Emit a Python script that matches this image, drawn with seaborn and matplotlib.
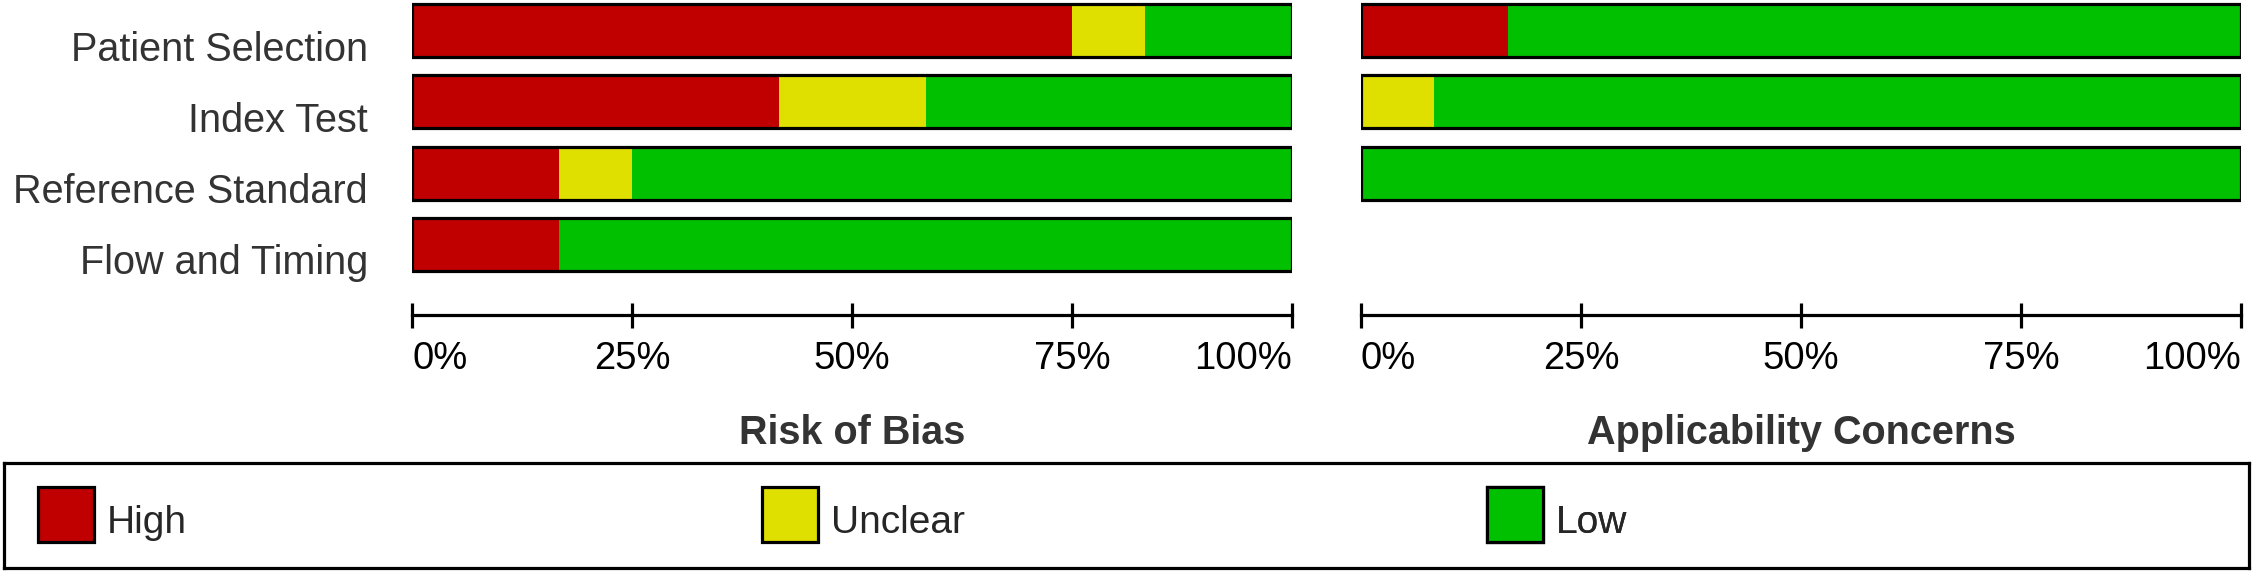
import matplotlib
matplotlib.use("Agg")
import matplotlib.pyplot as plt
from matplotlib.patches import Patch
import seaborn as sns
import pandas as pd

# ---- data (percent of studies) ----
rob_domains = ["Patient Selection", "Index Test", "Reference Standard", "Flow and Timing"]
rob_high = [75.0, 41.7, 16.7, 16.7]
rob_unclear = [8.3, 16.7, 8.3, 0.0]
rob_low = [16.7, 41.6, 75.0, 83.3]

app_domains = ["Patient Selection", "Index Test", "Reference Standard"]
app_high = [16.7, 0.0, 0.0]
app_unclear = [0.0, 8.3, 0.0]
app_low = [83.3, 91.7, 100.0]

tick_values = [0, 25, 50, 75, 100]
tick_labels = ["0%", "25%", "50%", "75%", "100%"]
levels = ["High", "Unclear", "Low"]
colors = {"High": "#C00000", "Unclear": "#E0E000", "Low": "#00C000"}

sns.set_theme(style="white")
plt.rcParams["font.family"] = ["Liberation Sans", "DejaVu Sans"]

W, H = 2255, 574
fig = plt.figure(figsize=(W / 100, H / 100), dpi=100)

def fx(px):
    return px / W

def fy(px):
    return 1 - px / H

ax_top_px, ax_bot_px = 0, 315
axes_h = (ax_bot_px - ax_top_px) / H
ax_rob = fig.add_axes([fx(412), fy(ax_bot_px), 880 / W, axes_h])
ax_app = fig.add_axes([fx(1361), fy(ax_bot_px), 880 / W, axes_h])

def draw(ax, domains, high, unclear, low, title, show_labels):
    df = pd.DataFrame({"domain": domains, "high": high, "unclear": unclear, "low": low})
    df["cum_unclear"] = df["high"] + df["unclear"]
    df["total"] = df["cum_unclear"] + df["low"]
    bw = 0.74
    sns.barplot(data=df, x="total", y="domain", orient="h", color=colors["Low"],
                saturation=1, width=bw, errorbar=None, linewidth=0, ax=ax)
    sns.barplot(data=df, x="cum_unclear", y="domain", orient="h", color=colors["Unclear"],
                saturation=1, width=bw, errorbar=None, linewidth=0, ax=ax)
    sns.barplot(data=df, x="high", y="domain", orient="h", color=colors["High"],
                saturation=1, width=bw, errorbar=None, linewidth=0, ax=ax)
    sns.barplot(data=df, x="total", y="domain", orient="h", color="black", fill=False,
                width=bw, errorbar=None, linewidth=2.3, ax=ax)
    ax.set_xlim(0, 100)
    ax.set_ylim(3.989, -0.428)
    for s in ["top", "left", "right"]:
        ax.spines[s].set_visible(False)
    ax.spines["bottom"].set_color("black")
    ax.spines["bottom"].set_linewidth(2.3)
    ax.set_xticks(tick_values)
    ax.set_xticklabels(tick_labels, fontsize=27.5, color="black")
    for lab, ha in zip(ax.get_xticklabels(), ["left", "center", "center", "center", "right"]):
        lab.set_horizontalalignment(ha)
    ax.tick_params(axis="x", direction="inout", length=18, width=2.3, color="black",
                   pad=10, bottom=True)
    ax.set_xlabel(title, fontsize=28.5, fontweight="bold", color="#333333", labelpad=26)
    ax.set_ylabel("")
    ax.tick_params(axis="y", length=0, labelleft=False)
    if show_labels:
        for i, d in enumerate(domains):
            ax.annotate(d, xy=(0, i), xycoords=("axes fraction", "data"),
                        xytext=(-31.7, -21.6), textcoords="offset points",
                        ha="right", va="baseline", fontsize=28.5, color="#333333",
                        annotation_clip=False)
    ax.set_facecolor("none")

draw(ax_rob, rob_domains, rob_high, rob_unclear, rob_low, "Risk of Bias", True)
draw(ax_app, app_domains, app_high, app_unclear, app_low, "Applicability Concerns", False)

# ---- legend box ----
ax_leg = fig.add_axes([fx(3.6), fy(568), (2249 - 3.6) / W, (568 - 463) / H])
ax_leg.set_xticks([])
ax_leg.set_yticks([])
ax_leg.set_xlim(0, 1)
ax_leg.set_ylim(0, 1)
for s in ax_leg.spines.values():
    s.set_visible(True)
    s.set_color("black")
    s.set_linewidth(2.3)

leg_x = [0.0151, 0.3378, 0.6606]
for lvl, x in zip(levels, leg_x):
    h = Patch(facecolor=colors[lvl], edgecolor="black", linewidth=2.3, label=lvl)
    lg = ax_leg.legend(handles=[h], loc="center left", bbox_to_anchor=(x, 0.51),
                       frameon=False, fontsize=28, handlelength=1.44, handleheight=1.8,
                       handletextpad=0.33, borderpad=0, borderaxespad=0)
    for t in lg.get_texts():
        t.set_y(-6)
    ax_leg.add_artist(lg)

fig.savefig("out.png", dpi=100)
